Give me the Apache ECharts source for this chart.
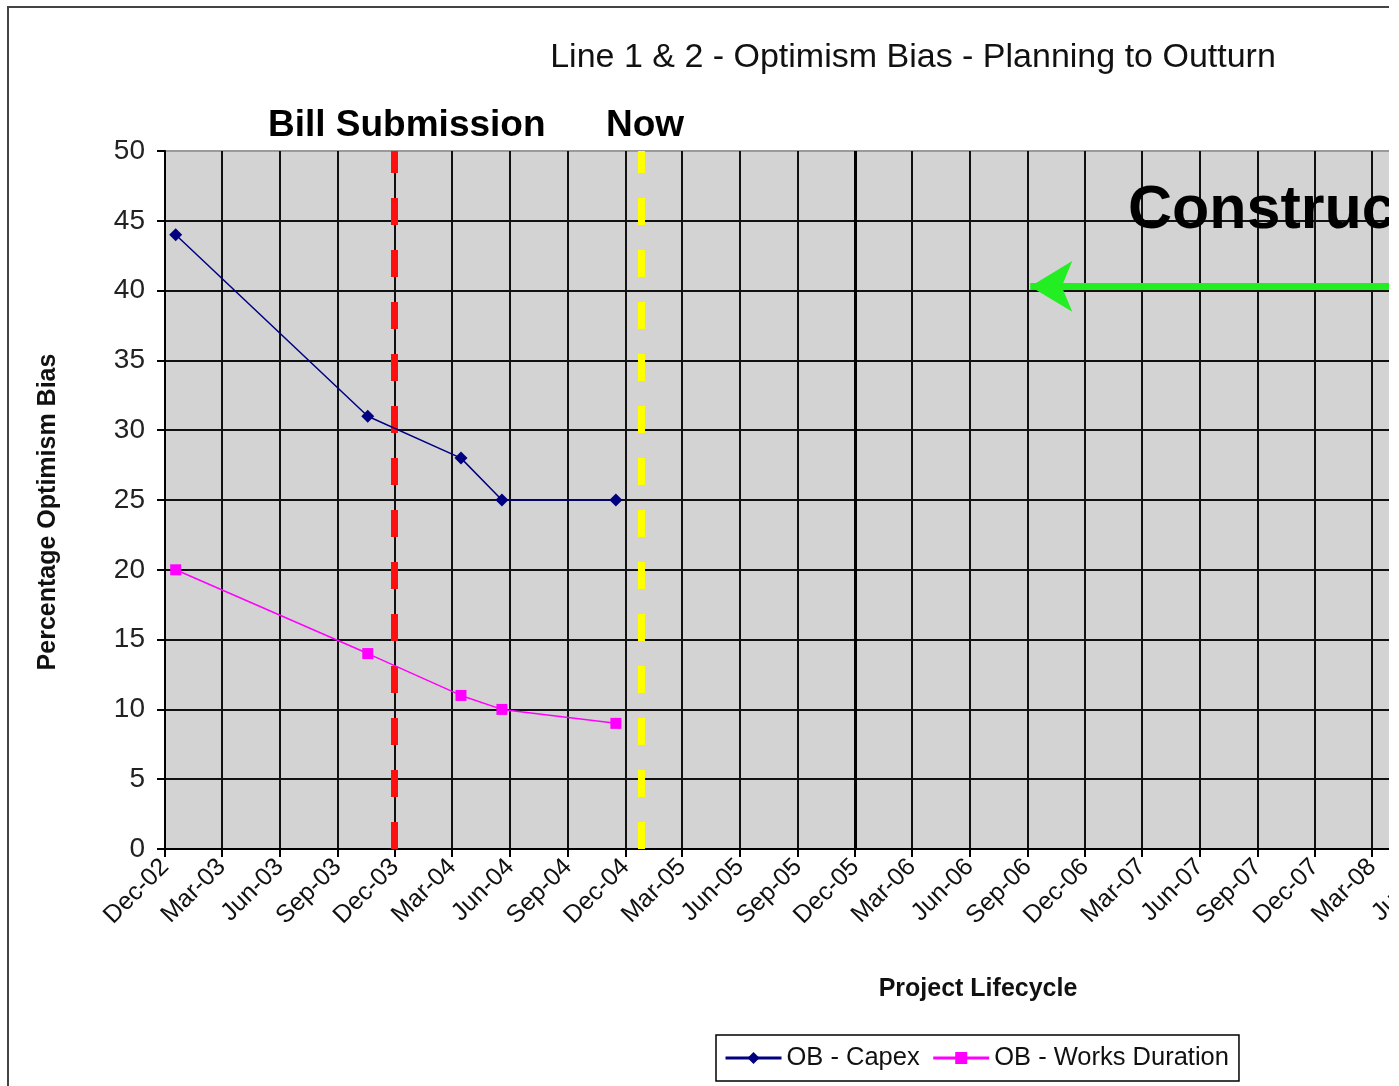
<!DOCTYPE html>
<html><head><meta charset="utf-8">
<script src="https://cdn.jsdelivr.net/npm/echarts@6/dist/echarts.min.js"></script>
<style>
html,body{margin:0;padding:0;background:#fff;overflow:hidden;}
#wrap{position:absolute;left:0;top:0;width:1389px;height:1086px;overflow:hidden;background:#fff;}
#chart{position:absolute;left:0;top:0;width:1800px;height:1086px;}
</style></head><body>
<div id="wrap"><div id="chart"></div></div>
<script>
// ---- data ----
const chartTitle = 'Line 1 & 2 - Optimism Bias - Planning to Outturn';
const tickLabels = ['Dec-02','Mar-03','Jun-03','Sep-03','Dec-03','Mar-04','Jun-04','Sep-04','Dec-04',
  'Mar-05','Jun-05','Sep-05','Dec-05','Mar-06','Jun-06','Sep-06','Dec-06','Mar-07','Jun-07','Sep-07',
  'Dec-07','Mar-08','Jun-08','Sep-08','Dec-08','Mar-09','Jun-09','Sep-09','Dec-09'];
const seriesNames = ['OB - Capex', 'OB - Works Duration'];
const obDates = ['2002-12-18','2003-10-19','2004-03-15','2004-05-19','2004-11-16'];
const capexValues = [44, 31, 28, 25, 25];
const worksValues = [20, 14, 11, 10, 9];
const billSubmissionDate = '2003-11-30';
const nowDate = '2004-12-27';
const constructionStartDate = '2005-12-01';
const arrowTipDate = '2006-09-05';
const arrowEndDate = '2009-06-01';
const arrowLevel = 40.3;
const yMin = 0, yMax = 50, yStep = 5;

// ---- helpers ----
const MONTHS = ['Jan','Feb','Mar','Apr','May','Jun','Jul','Aug','Sep','Oct','Nov','Dec'];
function tickTs(lbl){ const [m,y] = lbl.split('-'); return Date.UTC(2000+parseInt(y,10), MONTHS.indexOf(m), 1); }
function dateTs(s){ const [y,m,d] = s.split('-').map(Number); return Date.UTC(y, m-1, d); }
const tickValues = tickLabels.map(tickTs);
const labelByTs = {}; tickLabels.forEach((l,i)=>{ labelByTs[tickValues[i]] = l; });
const capexData = obDates.map((d,i)=>[dateTs(d), capexValues[i]]);
const worksData = obDates.map((d,i)=>[dateTs(d), worksValues[i]]);
const ySplitColors = [];
for (let v = yMin; v <= yMax; v += yStep) ySplitColors.push(v === yMax ? '#9a9a9a' : '#111');
const DAY = 86400000;
const xMax = tickValues[tickValues.length - 1] + 25 * DAY;

const FONT = 'Liberation Sans, Arial, sans-serif';
const chart = echarts.init(document.getElementById('chart'), null, {renderer: 'canvas'});
chart.setOption({
  animation: false,
  backgroundColor: '#fff',
  title: {
    text: chartTitle, left: 908, top: 36, textAlign: 'center',
    textStyle: {fontFamily: FONT, fontSize: 34, fontWeight: 'normal', color: '#111'}
  },
  graphic: [
    {type: 'rect', z: 100, silent: true, shape: {x: 8, y: 7, width: 2000, height: 1300},
     style: {fill: 'none', stroke: '#444', lineWidth: 2}},
    {type: 'text', left: 268, top: 107, z: 100, style: {text: 'Bill Submission', font: 'bold 37px ' + FONT, fill: '#000'}},
    {type: 'text', left: 606, top: 107, z: 100, style: {text: 'Now', font: 'bold 37px ' + FONT, fill: '#000'}},
    {type: 'text', left: 1128, top: 181, z: 100, style: {text: 'Construction', font: 'bold 61px ' + FONT, fill: '#000'}}
  ],
  legend: {
    data: seriesNames, left: 716, top: 1035, orient: 'horizontal',
    padding: [10, 10, 10, 8], itemGap: 12, itemWidth: 56, itemHeight: 15,
    borderColor: '#000', borderWidth: 1.5, backgroundColor: '#fff',
    lineStyle: {width: 3},
    textStyle: {fontFamily: FONT, fontSize: 25.5, color: '#111'}
  },
  grid: {
    left: 165, top: 151, width: 1626, bottom: 237,
    show: true, backgroundColor: '#d3d3d3', borderWidth: 0
  },
  xAxis: {
    type: 'value', min: tickValues[0], max: xMax,
    name: 'Project Lifecycle', nameLocation: 'middle', nameGap: 128,
    nameTextStyle: {fontFamily: FONT, fontSize: 25, fontWeight: 'bold', color: '#111'},
    axisLine: {show: true, onZero: false, lineStyle: {color: '#000', width: 2}},
    axisTick: {show: true, inside: false, length: 8, customValues: tickValues, lineStyle: {color: '#000', width: 2}},
    axisLabel: {show: true, rotate: 45, margin: 14, customValues: tickValues,
      fontFamily: FONT, fontSize: 25, color: '#111',
      formatter: v => labelByTs[v] || ''},
    splitLine: {show: true, lineStyle: {color: '#111', width: 2}}
  },
  yAxis: {
    type: 'value', min: yMin, max: yMax, interval: yStep,
    name: 'Percentage Optimism Bias', nameLocation: 'middle', nameGap: 104, nameRotate: 90,
    nameTextStyle: {fontFamily: FONT, fontSize: 25, fontWeight: 'bold', color: '#111', padding: [0, 24, 0, 0]},
    axisLine: {show: true, lineStyle: {color: '#000', width: 2}},
    axisTick: {show: true, inside: false, length: 8, lineStyle: {color: '#000', width: 2}},
    axisLabel: {margin: 20, fontFamily: FONT, fontSize: 28, color: '#222'},
    splitLine: {show: true, lineStyle: {color: ySplitColors, width: 2}}
  },
  series: [
    {
      name: seriesNames[0], type: 'line', data: capexData,
      symbol: 'diamond', symbolSize: 13, z: 5,
      itemStyle: {color: '#000080'},
      lineStyle: {color: '#000080', width: 1.5},
      markLine: {
        silent: true, symbol: 'none', animation: false, z: 3,
        label: {show: false},
        data: [
          {xAxis: dateTs(billSubmissionDate), lineStyle: {color: '#ff1010', width: 7, type: [27, 25]}},
          {xAxis: dateTs(nowDate), lineStyle: {color: '#ffff00', width: 7, type: [27, 25]}},
          {xAxis: dateTs(constructionStartDate), lineStyle: {color: '#000', width: 3, type: 'solid'}},
          [
            {coord: [dateTs(arrowTipDate), arrowLevel], symbol: 'arrow', symbolSize: [38, 42],
             lineStyle: {color: '#22ee22', width: 7, type: 'solid'}},
            {coord: [dateTs(arrowEndDate), arrowLevel], symbol: 'none'}
          ]
        ]
      }
    },
    {
      name: seriesNames[1], type: 'line', data: worksData,
      symbol: 'rect', symbolSize: 11, z: 5,
      itemStyle: {color: '#ff00ff'},
      lineStyle: {color: '#ff00ff', width: 1.5}
    }
  ]
});
</script>
</body></html>
